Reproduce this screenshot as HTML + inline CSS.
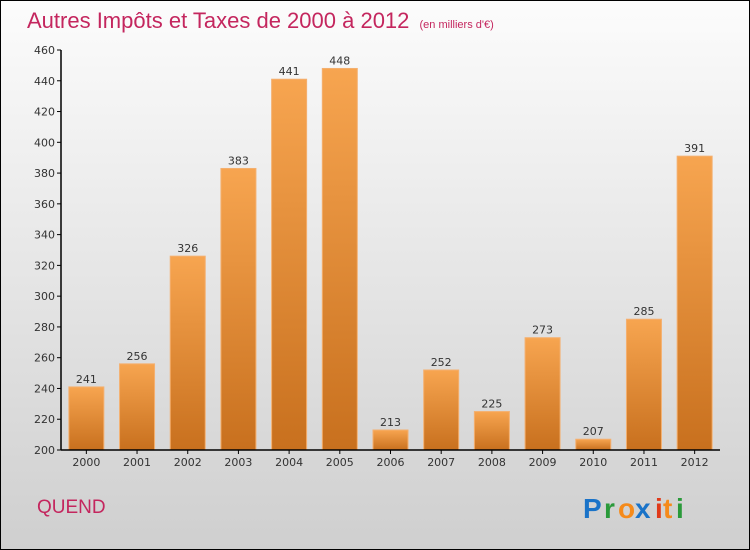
<!DOCTYPE html>
<html><head><meta charset="utf-8"><style>
body{margin:0}
#c{width:748px;height:548px;border:1px solid #000;background:linear-gradient(#fcfcfc,#cfcfcf);position:relative;overflow:hidden;font-family:"DejaVu Sans","Liberation Sans",sans-serif}
</style></head><body>
<div id="c">
<svg width="748" height="548" id="s">
<defs><linearGradient id="g" x1="0" y1="0" x2="0" y2="1"><stop offset="0" stop-color="#f7a550"/><stop offset="1" stop-color="#c8701e"/></linearGradient></defs>
<text x="26" y="27" font-size="22" fill="#c4265e" font-family="'Liberation Sans',sans-serif">Autres Impôts et Taxes de 2000 à 2012 <tspan font-size="11" dx="4">(en milliers d'€)</tspan></text>
<text x="36" y="512" font-size="19" fill="#c4265e" font-family="'Liberation Sans',sans-serif">QUEND</text>
<g font-size="28" font-weight="bold" font-family="'Liberation Sans',sans-serif">
<text x="582" y="517" fill="#1a73c8">P</text><text x="603" y="517" fill="#2a9a3a">r</text><text x="617" y="517" fill="#f58a1a">o</text><text x="634" y="517" fill="#1a73c8">x</text><text x="654" y="517" fill="#e03a1a">i</text><text x="662" y="517" fill="#f58a1a">t</text><text x="675" y="517" fill="#2a9a3a">i</text></g>
<g id="plot"></g>
</svg></div>
<script>
const categories=["2000","2001","2002","2003","2004","2005","2006","2007","2008","2009","2010","2011","2012"];
const values=[241,256,326,383,441,448,213,252,225,273,207,285,391];
const ticks=[200,220,240,260,280,300,320,340,360,380,400,420,440,460];
const x0=60,x1=719,yb=449,yt=49,vmin=200,vmax=460;
const ns="http://www.w3.org/2000/svg";
const g=document.getElementById('plot');
const Y=v=>yb-(v-vmin)/(vmax-vmin)*(yb-yt);
const slot=(x1-x0)/categories.length;
function mk(t,a,txt){const e=document.createElementNS(ns,t);for(const k in a)e.setAttribute(k,a[k]);if(txt!=null)e.textContent=txt;g.appendChild(e);return e;}
ticks.forEach(t=>{
const l=mk('line',{x1:x0-4,x2:x0,y1:Y(t),y2:Y(t),stroke:'#000'});


const tx=mk('text',{x:x0-6,y:Y(t)+4,'font-size':11,'text-anchor':'end',fill:'#333'},t);


});
categories.forEach((c,i)=>{
const cx=x0+slot*(i+0.5),v=values[i];
const r=mk('rect',{x:cx-17.5,y:Y(v),width:35,height:yb-Y(v),fill:'url(#g)',stroke:'#f4b070','stroke-width':1});


const vl=mk('text',{x:cx,y:Y(v)-4,'font-size':11,'text-anchor':'middle',fill:'#333'},v);


const tk=mk('line',{x1:cx,x2:cx,y1:yb,y2:yb+4,stroke:'#000'});


const xl=mk('text',{x:cx,y:yb+16,'font-size':11,'text-anchor':'middle',fill:'#333'},c);


});
const ya=mk('line',{x1:x0,x2:x0,y1:yt,y2:yb,stroke:'#000','stroke-width':1.5});


const xa=mk('line',{x1:x0,x2:x1,y1:yb,y2:yb,stroke:'#000','stroke-width':1.5});


</script>
</body></html>
